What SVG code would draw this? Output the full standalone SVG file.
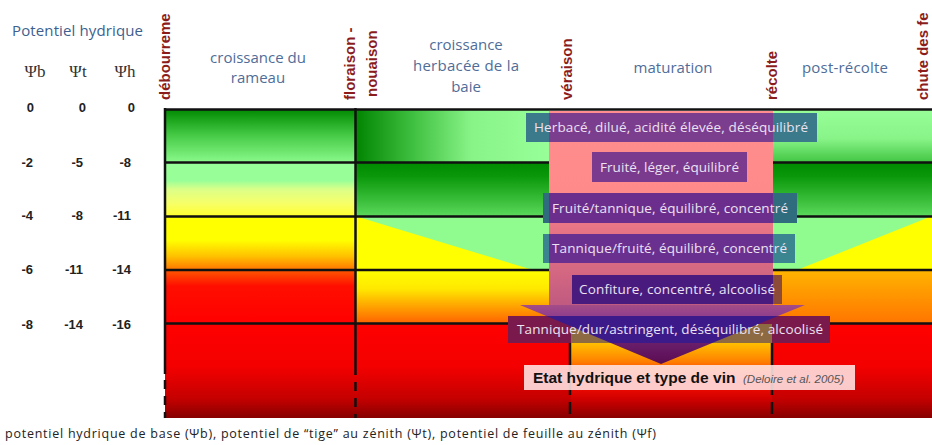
<svg xmlns="http://www.w3.org/2000/svg" width="932" height="445" viewBox="0 0 932 445">
<defs>
<style>
.ln{stroke:#111;stroke-width:2.5;fill:none}
.dash{stroke:#111;stroke-width:2.5;stroke-dasharray:9 7;fill:none}
.phase{font-family:"Open Sans","Liberation Sans",sans-serif;font-size:15px;fill:#4f6d98;text-anchor:middle}
.stage{font-family:"Liberation Sans",Arial,sans-serif;font-size:15px;font-weight:bold;fill:#8b1c1c}
.num{font-family:"Liberation Sans",Arial,sans-serif;font-size:13px;font-weight:bold;fill:#222;text-anchor:end}
.psi{font-family:"Liberation Serif","Times New Roman",serif;font-size:17px;fill:#333;text-anchor:middle}
.wt{font-family:"Open Sans","Liberation Sans",sans-serif;font-size:13.5px;fill:#ece2f2;text-anchor:middle}
</style>
<linearGradient id="gL1" x1="0" y1="0" x2="0" y2="1"><stop offset="0" stop-color="#008a00"/><stop offset="0.5" stop-color="#48cc48"/><stop offset="1" stop-color="#8cfa8c"/></linearGradient>
<linearGradient id="gL2" x1="0" y1="0" x2="0" y2="1"><stop offset="0" stop-color="#98ff98"/><stop offset="0.33" stop-color="#98ff98"/><stop offset="0.5" stop-color="#dcff88"/><stop offset="0.75" stop-color="#f6ff6a"/><stop offset="1" stop-color="#ffff30"/></linearGradient>
<linearGradient id="gL3" x1="0" y1="0" x2="0" y2="1"><stop offset="0" stop-color="#ffff00"/><stop offset="0.45" stop-color="#ffff00"/><stop offset="0.75" stop-color="#ffc000"/><stop offset="1" stop-color="#ff7400"/></linearGradient>
<linearGradient id="gL4" x1="0" y1="0" x2="0" y2="1"><stop offset="0" stop-color="#ff5800"/><stop offset="0.3" stop-color="#ff0e00"/><stop offset="1" stop-color="#ff0000"/></linearGradient>
<linearGradient id="gRed" x1="0" y1="0" x2="0" y2="1"><stop offset="0" stop-color="#ff0000"/><stop offset="0.45" stop-color="#f40000"/><stop offset="0.8" stop-color="#c40000"/><stop offset="1" stop-color="#860000"/></linearGradient>
<linearGradient id="gM1" x1="0" y1="0" x2="1" y2="0"><stop offset="0" stop-color="#008400"/><stop offset="0.3" stop-color="#40c040"/><stop offset="0.6" stop-color="#88f488"/><stop offset="1" stop-color="#98ff98"/></linearGradient>
<linearGradient id="gR1" x1="0" y1="0" x2="0" y2="1"><stop offset="0" stop-color="#98ff98"/><stop offset="0.55" stop-color="#88f488"/><stop offset="1" stop-color="#40c440"/></linearGradient>
<linearGradient id="gM2" x1="0" y1="0" x2="0" y2="1"><stop offset="0" stop-color="#008a00"/><stop offset="0.25" stop-color="#0a980a"/><stop offset="1" stop-color="#5ad85a"/></linearGradient>
<linearGradient id="gM4L" x1="0" y1="0" x2="0" y2="1"><stop offset="0" stop-color="#ffff00"/><stop offset="0.35" stop-color="#ffe800"/><stop offset="0.65" stop-color="#ffa800"/><stop offset="1" stop-color="#ff6000"/></linearGradient>
<linearGradient id="gM4R" x1="0" y1="0" x2="0" y2="1"><stop offset="0" stop-color="#ffb400"/><stop offset="1" stop-color="#ff7400"/></linearGradient>
<linearGradient id="gMid5" x1="0" y1="0" x2="0" y2="1"><stop offset="0" stop-color="#ffe000"/><stop offset="0.2" stop-color="#ffc000"/><stop offset="0.4" stop-color="#ff8000"/><stop offset="0.6" stop-color="#ff1000"/><stop offset="0.8" stop-color="#d00000"/><stop offset="1" stop-color="#880000"/></linearGradient>
<linearGradient id="gPink" x1="0" y1="0" x2="0" y2="1"><stop offset="0" stop-color="#ff8e8e"/><stop offset="0.42" stop-color="#ff8a8a"/><stop offset="0.6" stop-color="#e87585"/><stop offset="0.82" stop-color="#d56882"/><stop offset="1" stop-color="#c05a80"/></linearGradient>
<linearGradient id="gHead" x1="0" y1="0" x2="0" y2="1"><stop offset="0" stop-color="#a44c88"/><stop offset="0.25" stop-color="#8a3a8e"/><stop offset="0.65" stop-color="#6a1e6a"/><stop offset="1" stop-color="#5a0c52"/></linearGradient>
<clipPath id="pinkClip"><rect x="549" y="108" width="224" height="197"/></clipPath>
<clipPath id="headClip"><polygon points="520,305 805,305 661,364"/></clipPath>
<clipPath id="mid5Clip"><rect x="571" y="324" width="201" height="94"/></clipPath>
</defs>

<g id="grid">
<rect x="165" y="109" width="190" height="54" fill="url(#gL1)"/>
<rect x="165" y="163" width="190" height="53" fill="url(#gL2)"/>
<rect x="165" y="216" width="190" height="54" fill="url(#gL3)"/>
<rect x="165" y="270" width="190" height="54" fill="url(#gL4)"/>
<rect x="165" y="324" width="190" height="94" fill="url(#gRed)"/>
<rect x="355" y="109" width="194" height="54" fill="url(#gM1)"/>
<rect x="773" y="109" width="159" height="54" fill="url(#gR1)"/>
<rect x="355" y="163" width="577" height="53" fill="url(#gM2)"/>
<rect x="355" y="216" width="577" height="54" fill="#90fc90"/>
<polygon points="355,216 533,270 355,270" fill="#ffff00"/>
<polygon points="797,270 932,216 932,270" fill="#ffff00"/>
<rect x="355" y="270" width="577" height="54" fill="url(#gM4L)"/>
<rect x="773" y="270" width="159" height="54" fill="url(#gM4R)"/>
<rect x="355" y="324" width="577" height="94" fill="url(#gRed)"/>
<rect x="571" y="324" width="201" height="94" fill="url(#gMid5)"/>
<path class="ln" d="M165 162.5H932M165 216.5H932M165 270H932M165 323.5H932"/>
<path class="ln" d="M165 108V374M355.5 108V375M570 324V395M772 324V395"/>
<path class="dash" d="M165 380V418M355.5 382V418"/>
<path class="ln" d="M570 402V414M772 402V414"/>
</g>

<g id="arrow">
<rect x="549" y="111" width="224" height="194" fill="url(#gPink)"/>
<polygon points="520,305 805,305 661,364" fill="url(#gHead)"/>
</g>
<path class="ln" d="M164 109.5H932"/>

<g id="wine-types">
<rect x="526" y="113" width="291" height="29" fill="#3a7a8a"/>
<rect x="592" y="152" width="155" height="30" fill="#7a3a8e"/>
<rect x="543" y="193" width="254" height="30" fill="#2e6c7e"/>
<rect x="543" y="234" width="252" height="29" fill="#3a8590"/>
<rect x="572" y="275" width="210" height="29" fill="#8c4a38"/>
<g clip-path="url(#pinkClip)">
<rect x="526" y="113" width="291" height="29" fill="#7b3d8e"/>
<rect x="592" y="152" width="155" height="30" fill="#7a3a8e"/>
<rect x="543" y="193" width="254" height="30" fill="#6c2e8c"/>
<rect x="543" y="234" width="252" height="29" fill="#6a3090"/>
<rect x="572" y="275" width="210" height="29" fill="#4a1b7e"/>
</g>
<rect x="508" y="316" width="322" height="27" fill="#7a1a4c"/>
<rect x="508" y="316" width="322" height="27" fill="#8e6a42" clip-path="url(#mid5Clip)"/>
<rect x="508" y="316" width="322" height="27" fill="#3c1a8a" clip-path="url(#headClip)"/>
<text class="wt" x="671" y="132" textLength="274">Herbacé, dilué, acidité élevée, déséquilibré</text>
<text class="wt" x="669.5" y="172" textLength="139">Fruité, léger, équilibré</text>
<text class="wt" x="670" y="213" textLength="236">Fruité/tannique, équilibré, concentré</text>
<text class="wt" x="669.5" y="253" textLength="235">Tannique/fruité, équilibré, concentré</text>
<text class="wt" x="677" y="294" textLength="196">Confiture, concentré, alcoolisé</text>
<text class="wt" x="670" y="334" textLength="306">Tannique/dur/astringent, déséquilibré, alcoolisé</text>
</g>

<g id="caption">
<rect x="524" y="365" width="331" height="25" fill="#ffe6e6" fill-opacity="0.88"/>
<text x="533" y="383" font-family="Liberation Sans, Arial, sans-serif" font-size="15.5" font-weight="bold" fill="#111">Etat hydrique et type de vin</text>
<text x="743" y="383" font-family="Liberation Sans, Arial, sans-serif" font-size="11.5" font-style="italic" fill="#555">(Deloire et al. 2005)</text>
</g>

<g id="phases">
<text class="phase" x="258" y="63">croissance du</text>
<text class="phase" x="258" y="83">rameau</text>
<text class="phase" x="466" y="50">croissance</text>
<text class="phase" x="466" y="71" textLength="106">herbacée de la</text>
<text class="phase" x="466" y="92">baie</text>
<text class="phase" x="673" y="73" textLength="79">maturation</text>
<text class="phase" x="845" y="73" textLength="86">post-récolte</text>
</g>

<g id="stages">
<text class="stage" transform="translate(170,100) rotate(-90)">débourreme</text>
<text class="stage" transform="translate(355,100) rotate(-90)">floraison -</text>
<text class="stage" transform="translate(377,97) rotate(-90)">nouaison</text>
<text class="stage" transform="translate(572,100) rotate(-90)">véraison</text>
<text class="stage" transform="translate(777,100) rotate(-90)">récolte</text>
<text class="stage" transform="translate(928,100) rotate(-90)">chute des fe</text>
</g>

<g id="axis">
<text x="12" y="36" font-family="Open Sans, Liberation Sans, sans-serif" font-size="15" fill="#3d5f8f" textLength="131">Potentiel hydrique</text>
<text class="psi" x="35" y="77">Ψb</text>
<text class="psi" x="78" y="77">Ψt</text>
<text class="psi" x="125" y="77">Ψh</text>
<text class="num" x="34" y="112">0</text><text class="num" x="86" y="112">0</text><text class="num" x="135" y="112">0</text>
<text class="num" x="33" y="167">-2</text><text class="num" x="83" y="167">-5</text><text class="num" x="131" y="167">-8</text>
<text class="num" x="33" y="220">-4</text><text class="num" x="83" y="220">-8</text><text class="num" x="131" y="220">-11</text>
<text class="num" x="33" y="274">-6</text><text class="num" x="83" y="274">-11</text><text class="num" x="131" y="274">-14</text>
<text class="num" x="33" y="329">-8</text><text class="num" x="83" y="329">-14</text><text class="num" x="131" y="329">-16</text>
</g>

<g id="footnote">
<text x="5" y="438" font-family="Open Sans, Liberation Sans, sans-serif" font-size="12.5" fill="#222" textLength="651">potentiel hydrique de base (Ψb), potentiel de “tige” au zénith (Ψt), potentiel de feuille au zénith (Ψf)</text>
</g>
</svg>
